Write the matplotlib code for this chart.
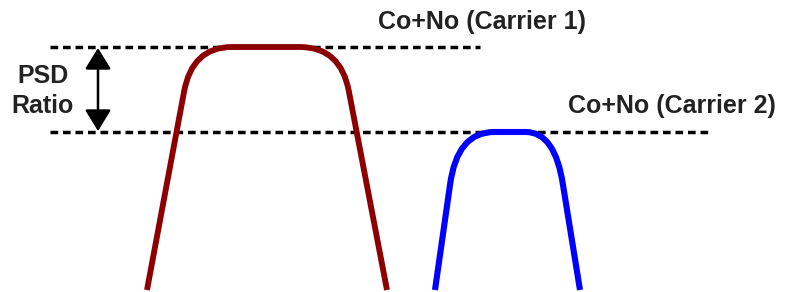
import matplotlib
matplotlib.use("Agg")
import matplotlib.pyplot as plt
from matplotlib.path import Path
from matplotlib.patches import PathPatch

# Spectrum shapes (frequency, level) in picture units; the middle points of each
# rounded corner are the quadratic curve control points
carrier1_x = [147, 184, 192, 232, 300, 341, 349, 387]
carrier1_y = [290, 92, 47, 47, 47, 47, 92, 290]
carrier2_x = [435, 450, 457, 494, 526, 555, 563, 580]
carrier2_y = [290, 185, 132, 132, 132, 132, 185, 290]

# Reference levels (Co+No) and their extents
level1 = 47
level2 = 132
level1_span = [50, 480]
level2_span = [50, 708]

label1 = "Co+No (Carrier 1)"
label2 = "Co+No (Carrier 2)"
ratio_label = ["PSD", "Ratio"]

codes = [Path.MOVETO, Path.LINETO, Path.CURVE3, Path.CURVE3,
         Path.LINETO, Path.CURVE3, Path.CURVE3, Path.LINETO]

plt.rcParams['font.family'] = ['Liberation Sans', 'DejaVu Sans']

fig = plt.figure(figsize=(7.87, 2.92), dpi=100)
ax = fig.add_axes([0, 0, 1, 1])
ax.set_xlim(0, 787)
ax.set_ylim(292, 0)
ax.axis('off')

# Dashed Co+No levels
dash_style = dict(color='black', lw=2.5, dashes=(2.2, 1.4))
ax.plot(level1_span, [level1, level1], **dash_style)
ax.plot(level2_span, [level2, level2], **dash_style)

# Carrier spectra
for xs, ys, col, lw in [(carrier1_x, carrier1_y, '#8c0000', 4.2),
                        (carrier2_x, carrier2_y, '#0000ff', 4.4)]:
    path = Path(list(zip(xs, ys)), codes)
    ax.add_patch(PathPatch(path, fill=False, edgecolor=col, lw=lw,
                           capstyle='butt', joinstyle='round', zorder=3))

# PSD ratio arrow
ax.annotate('', xy=(98, level1 + 1), xytext=(98, level2 - 1),
            arrowprops=dict(arrowstyle='<|-|>,head_length=0.65,head_width=0.4',
                            mutation_scale=20, color='black', lw=1.8,
                            shrinkA=0, shrinkB=0))

txt = dict(fontsize=18, fontweight='bold', color='#222222')
ax.text(43, 83, ratio_label[0], ha='center', va='baseline', **txt)
ax.text(43, 113, ratio_label[1], ha='center', va='baseline', **txt)
ax.text(482, 29, label1, ha='center', va='baseline', **txt)
ax.text(672, 113, label2, ha='center', va='baseline', **txt)

fig.savefig('out.png', dpi=100)
